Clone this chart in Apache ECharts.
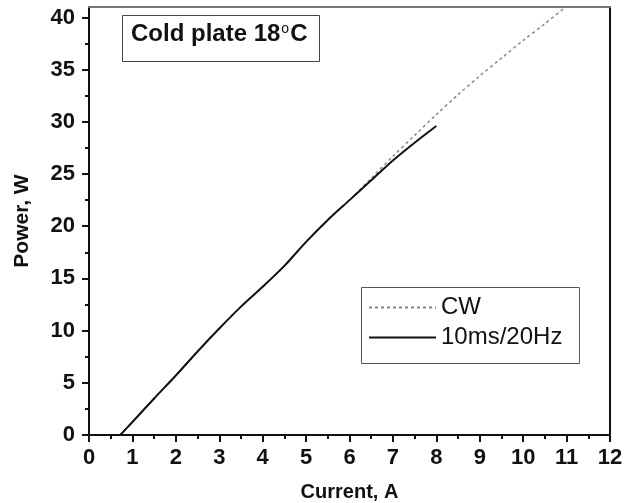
<!DOCTYPE html>
<html>
<head>
<meta charset="utf-8">
<script src="https://cdn.jsdelivr.net/npm/echarts@6/dist/echarts.min.js"></script>
<style>
    html, body { margin: 0; padding: 0; background: #fff; }
    #chart { width: 624px; height: 503px; }
</style>
</head>
<body>
<div id="chart"></div>
<script>
// 10ms/20Hz pulsed curve
var currentPulsed = [0.72, 1, 1.5, 2, 2.5, 3, 3.5, 4, 4.5, 5, 5.5, 6, 6.5, 7, 7.5, 8];
var powerPulsed = [0, 1.25, 3.5, 5.7, 8.0, 10.2, 12.3, 14.2, 16.2, 18.5, 20.6, 22.5, 24.4, 26.3, 28.0, 29.6];

// CW curve
var currentCW = [0.72, 1, 1.5, 2, 2.5, 3, 3.5, 4, 4.5, 5, 5.5, 6, 6.5, 7, 7.5, 8, 8.5, 9, 9.5, 10, 10.5, 10.95];
var powerCW = [0, 1.25, 3.5, 5.7, 8.0, 10.2, 12.3, 14.2, 16.2, 18.5, 20.6, 22.5, 24.6, 26.7, 28.7, 30.7, 32.6, 34.4, 36.1, 37.8, 39.4, 40.9];

var yMajorTicks = [0, 5, 10, 15, 20, 25, 30, 35, 40];
var yMinorTicks = [2.5, 7.5, 12.5, 17.5, 22.5, 27.5, 32.5, 37.5];

var seriesNames = ['CW', '10ms/20Hz'];

function pairs(xs, ys) {
    return xs.map(function (x, i) { return [x, ys[i]]; });
}

function powerChartInit() {
    var chartDom = document.getElementById('chart');
    var myChart = echarts.init(chartDom);
    var font = '"Liberation Sans", Arial, sans-serif';
    var option;

    option = {
        animation: false,
        backgroundColor: '#fff',
        grid: { left: 89, right: 14, top: 7, bottom: 68, outerBoundsMode: 'none', containLabel: false },
        legend: {
            orient: 'vertical',
            left: 368,
            top: 295,
            padding: 0,
            itemGap: 5,
            itemWidth: 67,
            itemHeight: 14,
            data: seriesNames,
            itemStyle: { color: 'rgba(0,0,0,0)', borderColor: 'rgba(0,0,0,0)', borderWidth: 0 },
            textStyle: { fontFamily: font, fontSize: 24, color: '#111', lineHeight: 25 }
        },
        xAxis: [
            {
                type: 'value',
                min: 0,
                max: 12,
                interval: 1,
                name: 'Current, A',
                nameLocation: 'middle',
                nameGap: 47,
                nameTextStyle: { fontFamily: font, fontSize: 20, fontWeight: 'bold', color: '#111' },
                splitLine: { show: false },
                axisLine: { show: true, onZero: false, lineStyle: { color: '#111', width: 2 } },
                axisTick: { inside: false, length: 7, lineStyle: { color: '#111', width: 2 } },
                minorTick: { show: true, splitNumber: 2, length: 4, lineStyle: { color: '#111', width: 2 } },
                axisLabel: { fontFamily: font, fontSize: 22, fontWeight: 'bold', color: '#111', margin: 12 }
            },
            {
                type: 'value',
                position: 'top',
                min: 0,
                max: 12,
                splitLine: { show: false },
                axisLine: { show: true, onZero: false, lineStyle: { color: '#777', width: 2 } },
                axisTick: { show: false },
                axisLabel: { show: false }
            }
        ],
        yAxis: [
            {
                type: 'value',
                min: 0,
                max: 41,
                name: 'Power, W',
                nameLocation: 'middle',
                nameGap: 56,
                nameTextStyle: { fontFamily: font, fontSize: 21, fontWeight: 'bold', color: '#111' },
                splitLine: { show: false },
                axisLine: { show: true, onZero: false, lineStyle: { color: '#111', width: 2 } },
                axisTick: { inside: false, length: 7, customValues: yMajorTicks, lineStyle: { color: '#111', width: 2 } },
                axisLabel: { customValues: yMajorTicks, fontFamily: font, fontSize: 22, fontWeight: 'bold', color: '#111', margin: 14 }
            },
            {
                type: 'value',
                position: 'left',
                min: 0,
                max: 41,
                splitLine: { show: false },
                axisLine: { show: false, onZero: false },
                axisTick: { inside: false, length: 4, customValues: yMinorTicks, lineStyle: { color: '#111', width: 2 } },
                axisLabel: { show: false }
            },
            {
                type: 'value',
                position: 'right',
                min: 0,
                max: 41,
                splitLine: { show: false },
                axisLine: { show: true, onZero: false, lineStyle: { color: '#111', width: 2 } },
                axisTick: { show: false },
                axisLabel: { show: false }
            }
        ],
        graphic: [
            {
                type: 'rect',
                left: 122,
                top: 15,
                shape: { width: 197, height: 46 },
                style: { fill: '#fff', stroke: '#444', lineWidth: 1 }
            },
            {
                type: 'text',
                left: 131,
                top: 22,
                style: {
                    text: 'Cold plate 18{sup|o}C',
                    fontFamily: font,
                    fontSize: 24,
                    fontWeight: 'bold',
                    fill: '#111',
                    rich: {
                        sup: { fontFamily: font, fontSize: 14, fontWeight: 'normal', fill: '#111', verticalAlign: 'top', padding: [0, 1, 10, 1] }
                    }
                }
            },
            {
                type: 'rect',
                left: 359,
                top: 285,
                shape: { width: 218, height: 76 },
                style: { fill: 'none', stroke: '#555', lineWidth: 1 },
                z: 0
            }
        ],
        series: [
            {
                name: 'CW',
                type: 'line',
                symbol: 'none',
                smooth: 0.3,
                data: pairs(currentCW, powerCW),
                lineStyle: { color: '#888', width: 1.5, type: [3, 3] },
                itemStyle: { color: '#888' },
                z: 2
            },
            {
                name: '10ms/20Hz',
                type: 'line',
                symbol: 'none',
                smooth: 0.3,
                data: pairs(currentPulsed, powerPulsed),
                lineStyle: { color: '#111', width: 2 },
                itemStyle: { color: '#111' },
                z: 3
            }
        ]
    };

    option && myChart.setOption(option);
}

powerChartInit();
</script>
</body>
</html>
